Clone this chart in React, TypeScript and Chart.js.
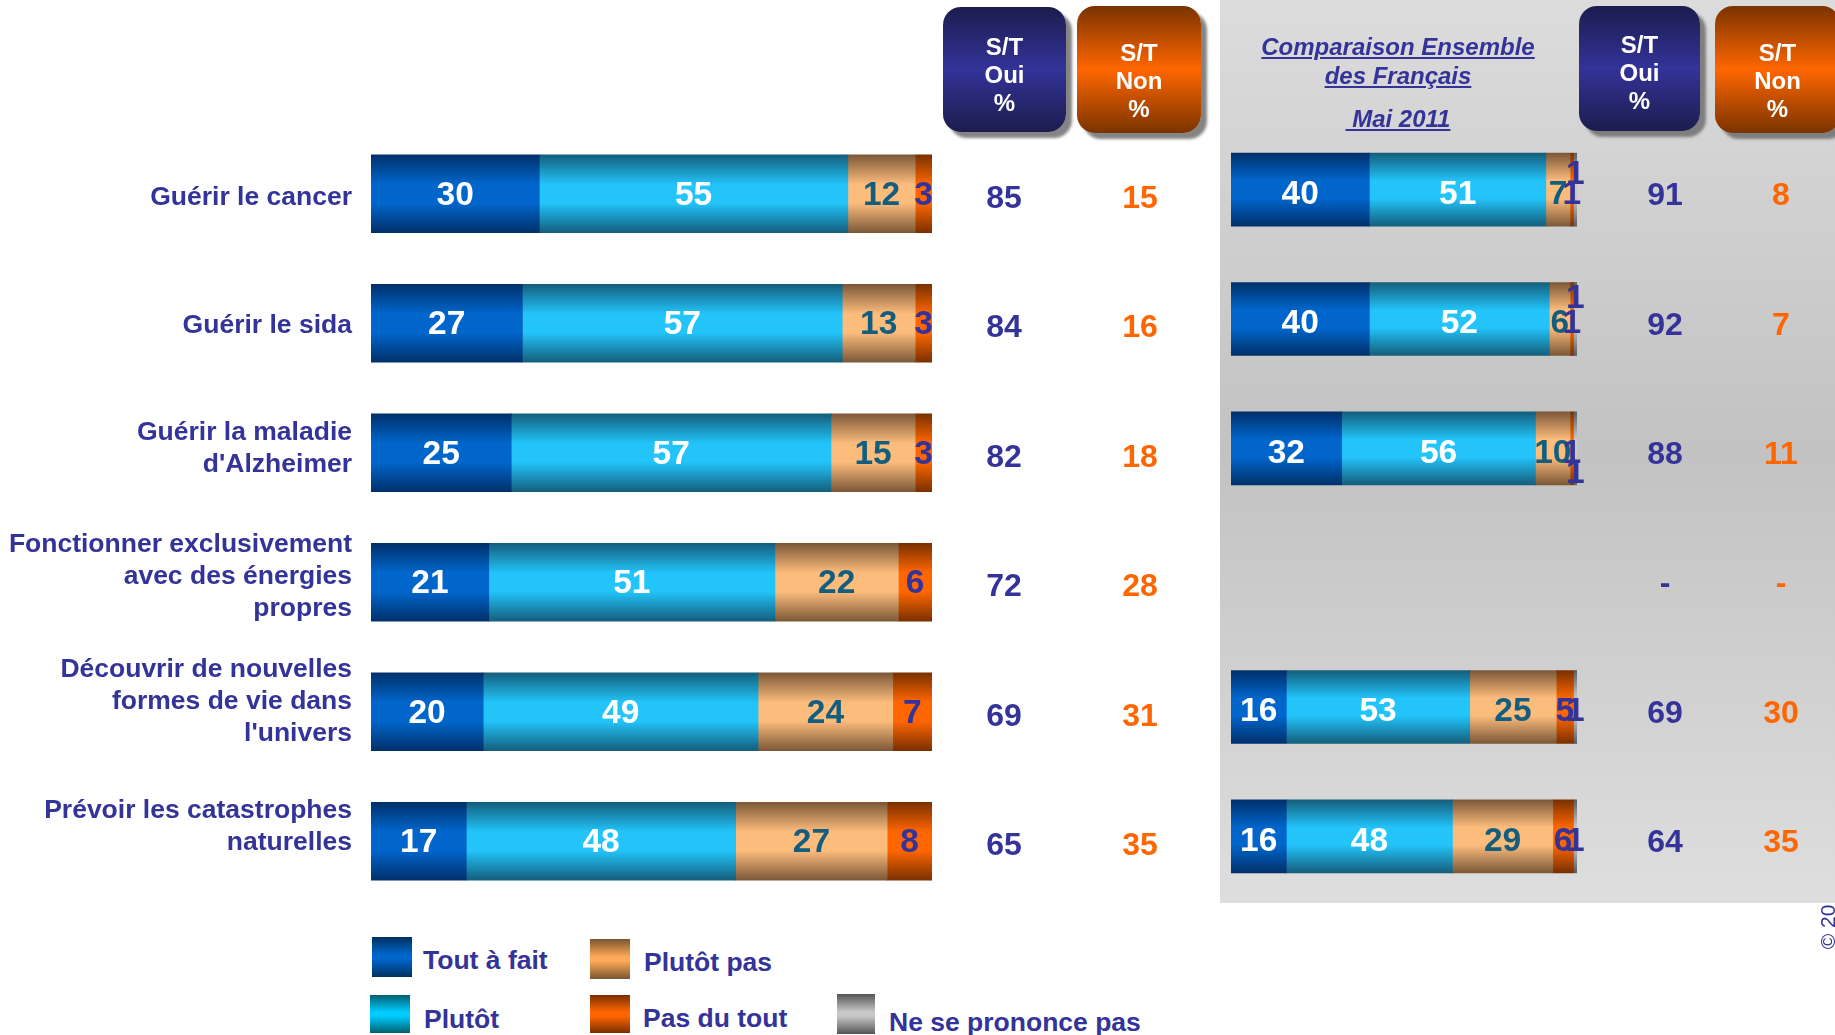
import React, { useEffect, useRef } from "react";
import { Chart, registerables } from "chart.js";

Chart.register(...registerables);

// ---------------- DATA ----------------
const categories: string[][] = [
  ["Guérir le cancer"],
  ["Guérir le sida"],
  ["Guérir la maladie", "d'Alzheimer"],
  ["Fonctionner exclusivement", "avec des énergies", "propres"],
  ["Découvrir de nouvelles", "formes de vie dans", "l'univers"],
  ["Prévoir les catastrophes", "naturelles"],
];
const seriesNames = ["Tout à fait", "Plutôt", "Plutôt pas", "Pas du tout", "Ne se prononce pas"];

// Current survey
const toutAFait = [30, 27, 25, 21, 20, 17];
const plutot = [55, 57, 57, 51, 49, 48];
const plutotPas = [12, 13, 15, 22, 24, 27];
const pasDuTout = [3, 3, 3, 6, 7, 8];
const nsp = [0, 0, 0, 0, 0, 0];
const stOui = [85, 84, 82, 72, 69, 65];
const stNon = [15, 16, 18, 28, 31, 35];

// Comparison: Ensemble des Français, Mai 2011
const mai2011ToutAFait = [40, 40, 32, null, 16, 16];
const mai2011Plutot = [51, 52, 56, null, 53, 48];
const mai2011PlutotPas = [7, 6, 10, null, 25, 29];
const mai2011PasDuTout = [1, 1, 1, null, 5, 6];
const mai2011Nsp = [1, 1, 1, null, 1, 1];
const mai2011StOui = [91, 92, 88, null, 69, 64];
const mai2011StNon = [8, 7, 11, null, 30, 35];

// ---------------- STYLE ----------------
const FONT = "'Liberation Sans', Arial, Helvetica, sans-serif";
const NAVY = "#333399";
const ORANGE = "#ff6600";
// [edge, middle] colours of each segment's vertical gradient
const segmentColors: [string, string][] = [
  ["#00306a", "#0066cc"],
  ["#145e7c", "#22c4fa"],
  ["#7c5838", "#fcbc7c"],
  ["#7a3000", "#ff6600"],
  ["#5c5c5c", "#c8c8c8"],
];
const legendColors: [string, string][] = [
  ["#003060", "#0066cc"],
  ["#006070", "#00ccff"],
  ["#7a5530", "#ffaa58"],
  ["#7a2e00", "#ff6600"],
  ["#555555", "#c8c8c8"],
];
const segmentLabelColors = ["#ffffff", "#ffffff", "#135e7e", NAVY, NAVY];
const categoryLabelShift = [4, 2, -4, -6, -10, -15];
const rightLabelShift: Record<number, number[]> = { 4: [-20, -25, 20, 0, 0, 0] };

function gradientFor(colors: [string, string], thickness: number) {
  return (c: any) => {
    const chart = c.chart;
    const yScale = chart.scales && chart.scales.y;
    if (!yScale || c.dataIndex == null) return colors[1];
    const yc = yScale.getPixelForValue(c.dataIndex);
    if (!isFinite(yc)) return colors[1];
    const g = chart.ctx.createLinearGradient(0, yc - thickness / 2, 0, yc + thickness / 2);
    g.addColorStop(0, colors[0]);
    g.addColorStop(0.38, colors[1]);
    g.addColorStop(0.62, colors[1]);
    g.addColorStop(1, colors[0]);
    return g;
  };
}

type ColumnSpec = { x: number; values: (number | null)[]; color: string; dy: number };

function makeLabelPlugin(opts: {
  shift?: Record<number, number[]>;
  columns: ColumnSpec[];
  categoryX?: number;
  labelDy: number;
}) {
  return {
    id: "customLabels",
    afterDatasetsDraw(chart: any) {
      const ctx = chart.ctx as CanvasRenderingContext2D;
      const yScale = chart.scales.y;
      ctx.save();
      ctx.textAlign = "center";
      ctx.textBaseline = "middle";
      ctx.font = `bold 33.5px ${FONT}`;
      chart.data.datasets.forEach((ds: any, di: number) => {
        const meta = chart.getDatasetMeta(di);
        meta.data.forEach((el: any, i: number) => {
          const v = ds.data[i];
          if (v == null || v === 0) return;
          const cx = (el.x + el.base) / 2;
          const dy = (opts.shift && opts.shift[di] && opts.shift[di][i]) || 0;
          ctx.fillStyle = segmentLabelColors[di];
          ctx.fillText(String(v), cx, el.y + dy + opts.labelDy);
        });
      });
      ctx.font = `bold 32px ${FONT}`;
      opts.columns.forEach((col) => {
        ctx.fillStyle = col.color;
        col.values.forEach((v, i) => {
          const y = yScale.getPixelForValue(i) + col.dy;
          ctx.fillText(v == null ? "-" : String(v), col.x, y);
        });
      });
      if (opts.categoryX != null) {
        ctx.textAlign = "right";
        ctx.font = `bold 26.5px ${FONT}`;
        ctx.fillStyle = NAVY;
        (chart.data.labels as string[][]).forEach((lines, i) => {
          const yc = yScale.getPixelForValue(i) + categoryLabelShift[i];
          const lh = 32;
          lines.forEach((line, k) => {
            ctx.fillText(line, opts.categoryX as number, yc + (k - (lines.length - 1) / 2) * lh);
          });
        });
      }
      ctx.restore();
    },
  };
}

function StackedBars(props: {
  left: number;
  width: number;
  height: number;
  series: (number | null)[][];
  thickness: number;
  padding: { left: number; right: number; top: number; bottom: number };
  columns: ColumnSpec[];
  shift?: Record<number, number[]>;
  categoryX?: number;
  labelDy: number;
}) {
  const ref = useRef<HTMLCanvasElement | null>(null);
  useEffect(() => {
    if (!ref.current) return;
    const chart = new Chart(ref.current, {
      type: "bar",
      data: {
        labels: categories as any,
        datasets: props.series.map((vals, i) => ({
          label: seriesNames[i],
          data: vals as any,
          backgroundColor: gradientFor(segmentColors[i], props.thickness) as any,
          borderWidth: 0,
          barThickness: props.thickness,
        })),
      },
      options: {
        indexAxis: "y",
        responsive: false,
        animation: false,
        events: [],
        layout: { padding: props.padding },
        plugins: {
          legend: { display: false },
          tooltip: { enabled: false },
          title: { display: false },
        },
        scales: {
          x: { stacked: true, min: 0, max: 100, display: false },
          y: { stacked: true, display: false },
        },
      },
      plugins: [
        makeLabelPlugin({ shift: props.shift, columns: props.columns, categoryX: props.categoryX, labelDy: props.labelDy }),
      ],
    });
    return () => chart.destroy();
  }, []);
  return (
    <canvas
      ref={ref}
      width={props.width}
      height={props.height}
      style={{ position: "absolute", left: props.left, top: 0, width: props.width, height: props.height }}
    />
  );
}

function HeaderBox(props: { left: number; top: number; w: number; h: number; kind: "oui" | "non"; textTop: number }) {
  const bg =
    props.kind === "oui"
      ? "linear-gradient(to bottom, #1c1c4e 0%, #333399 50%, #1c1c4e 100%)"
      : "linear-gradient(to bottom, #7a3300 0%, #ff6600 50%, #7a3300 100%)";
  return (
    <div
      style={{
        position: "absolute",
        left: props.left,
        top: props.top,
        width: props.w,
        height: props.h,
        borderRadius: 18,
        background: bg,
        boxShadow: "6px 6px 3px rgba(110,110,110,0.85)",
        color: "#fff",
        fontWeight: "bold",
        fontSize: 24,
        lineHeight: "28px",
        textAlign: "center",
        fontFamily: FONT,
      }}
    >
      <div style={{ position: "absolute", left: 0, right: 0, top: props.textTop }}>
        <div>S/T</div>
        <div>{props.kind === "oui" ? "Oui" : "Non"}</div>
        <div>%</div>
      </div>
    </div>
  );
}

const legendLayout = [
  { sw: [372, 937, 40, 40], tx: [423, 960] },
  { sw: [370, 995, 40, 38], tx: [424, 1019] },
  { sw: [590, 939, 40, 40], tx: [644, 962] },
  { sw: [590, 995, 40, 38], tx: [643, 1018] },
  { sw: [837, 994, 38, 40], tx: [889, 1022] },
];

export default function App() {
  useEffect(() => {
    document.body.style.margin = "0";
    document.body.style.overflow = "hidden";
  }, []);

  const titleLine = (text: string, cy: number) => (
    <div
      style={{
        position: "absolute",
        left: 1220,
        width: 356,
        top: cy - 14,
        height: 28,
        lineHeight: "28px",
        textAlign: "center",
        color: NAVY,
        fontWeight: "bold",
        fontStyle: "italic",
        fontSize: 24,
        textDecoration: "underline",
        fontFamily: FONT,
        whiteSpace: "pre",
      }}
    >
      {text}
    </div>
  );

  return (
    <div style={{ position: "relative", width: 1835, height: 1035, overflow: "hidden", background: "#fff", fontFamily: FONT }}>
      <div
        style={{
          position: "absolute",
          left: 1220,
          top: 0,
          width: 615,
          height: 903,
          background: "linear-gradient(to bottom, #dcdcdc 0%, #c2c2c2 50%, #dedede 100%)",
        }}
      />
      <StackedBars
        left={0}
        width={1219}
        height={930}
        series={[toutAFait, plutot, plutotPas, pasDuTout, nsp]}
        thickness={78}
        padding={{ left: 371, right: 287, top: 129, bottom: 24 }}
        columns={[
          { x: 1004, values: stOui, color: NAVY, dy: 5 },
          { x: 1140, values: stNon, color: ORANGE, dy: 5 },
        ]}
        categoryX={352}
        labelDy={2}
      />
      <StackedBars
        left={1219}
        width={616}
        height={930}
        series={[mai2011ToutAFait, mai2011Plutot, mai2011PlutotPas, mai2011PasDuTout, mai2011Nsp]}
        thickness={73}
        padding={{ left: 12, right: 258, top: 125, bottom: 29 }}
        columns={[
          { x: 446, values: mai2011StOui, color: NAVY, dy: 7 },
          { x: 562, values: mai2011StNon, color: ORANGE, dy: 7 },
        ]}
        shift={rightLabelShift}
        labelDy={5}
      />

      <HeaderBox left={943} top={7} w={123} h={125} kind="oui" textTop={26} />
      <HeaderBox left={1077} top={6} w={124} h={127} kind="non" textTop={33} />
      <HeaderBox left={1579} top={6} w={121} h={125} kind="oui" textTop={25} />
      <HeaderBox left={1715} top={6} w={125} h={127} kind="non" textTop={33} />

      {titleLine("Comparaison Ensemble", 47)}
      {titleLine("des Français", 76)}
      {titleLine("\u00a0Mai 2011", 119)}

      {seriesNames.map((name, i) => {
        const L = legendLayout[i];
        const [c0, c1] = legendColors[i];
        return (
          <React.Fragment key={name}>
            <div
              style={{
                position: "absolute",
                left: L.sw[0],
                top: L.sw[1],
                width: L.sw[2],
                height: L.sw[3],
                background: `linear-gradient(to bottom, ${c0} 0%, ${c1} 45%, ${c1} 55%, ${c0} 100%)`,
              }}
            />
            <div
              style={{
                position: "absolute",
                left: L.tx[0],
                top: L.tx[1] - 15,
                height: 30,
                lineHeight: "30px",
                fontSize: 26.5,
                fontWeight: "bold",
                color: NAVY,
                whiteSpace: "nowrap",
              }}
            >
              {name}
            </div>
          </React.Fragment>
        );
      })}

      <div
        style={{
          position: "absolute",
          left: 1805,
          top: 915,
          width: 46,
          height: 24,
          lineHeight: "24px",
          fontSize: 21,
          color: NAVY,
          transform: "rotate(-90deg)",
          whiteSpace: "nowrap",
          textAlign: "center",
        }}
      >
        © 20
      </div>
    </div>
  );
}
